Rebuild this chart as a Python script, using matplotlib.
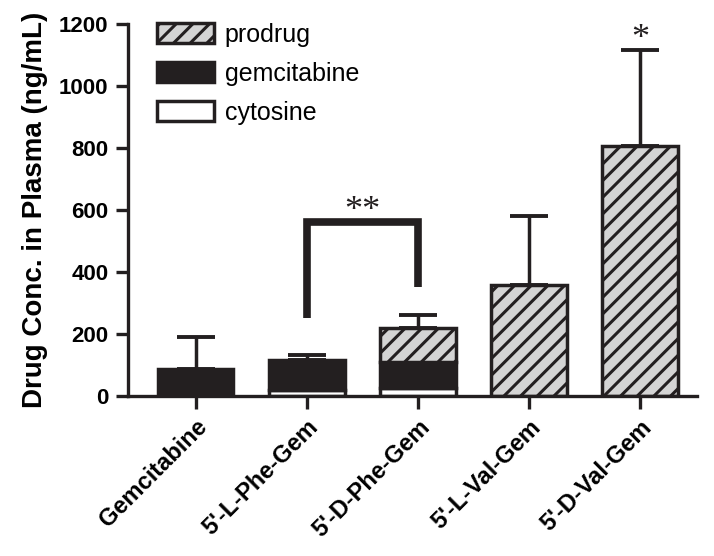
import numpy as np
import matplotlib.pyplot as plt
from matplotlib.patches import Patch

plt.rcParams["font.family"] = ["Liberation Sans", "DejaVu Sans"]
plt.rcParams["hatch.linewidth"] = 2.2

# data (ng/mL)
groups = ["Gemcitabine", "5'-L-Phe-Gem", "5'-D-Phe-Gem", "5'-L-Val-Gem", "5'-D-Val-Gem"]
cytosine = [0, 19, 26, 0, 0]
gemcitabine = [88, 97, 84, 0, 0]
prodrug = [0, 0, 109, 358, 806]
err_up = [102, 16, 42, 222, 310]

# significance marks
bracket_pair = (1, 2)
bracket_top = 560
bracket_feet = (252, 352)
bracket_text = "**"
star_group = 4
star_text = "*"

edge = "#231f20"
styles = {
    "prodrug": dict(facecolor="#d4d4d4", hatch="//"),
    "gemcitabine": dict(facecolor=edge),
    "cytosine": dict(facecolor="white"),
}
x = np.arange(len(groups))
width = 0.68

fig = plt.figure(figsize=(7.14, 5.56), dpi=100)
ax = fig.add_axes([0.179, 0.288, 0.797, 0.669])

cyt = np.array(cytosine)
gem = np.array(gemcitabine)
pro = np.array(prodrug)

# draw only the non-empty segments of each stack
for name, vals, bottom in (("cytosine", cyt, 0 * cyt), ("gemcitabine", gem, cyt),
                           ("prodrug", pro, cyt + gem)):
    keep = vals > 0
    ax.bar(x[keep], vals[keep], width, bottom=bottom[keep], edgecolor=edge,
           linewidth=2.5, zorder=2, **styles[name])

totals = cyt + gem + pro
ax.errorbar(x, totals, yerr=[np.zeros(len(x)), err_up], fmt="none",
            ecolor=edge, elinewidth=2.5, capsize=14, capthick=2.8, zorder=1)

# bracket between the two Phe prodrugs
i, j = bracket_pair
ax.plot([i, i, j, j], [bracket_feet[0], bracket_top, bracket_top, bracket_feet[1]],
        color=edge, lw=5.5, solid_joinstyle="miter", solid_capstyle="butt")
ax.text((i + j) / 2, bracket_top - 18, bracket_text, ha="center", va="bottom",
        fontsize=26, family="Liberation Serif", color=edge)
ax.text(star_group, totals[star_group] + err_up[star_group] - 18, star_text,
        ha="center", va="bottom", fontsize=26, family="Liberation Serif", color=edge)

ax.set_xlim(-0.61, 4.51)
ax.set_ylim(0, 1200)
ax.set_yticks(range(0, 1201, 200))
ax.set_xticks(x)
ax.set_xticklabels(groups, rotation=45, ha="right", rotation_mode="anchor",
                   fontsize=17, fontweight="bold")
for lab in ax.get_yticklabels():
    lab.set_fontsize(16)
    lab.set_fontweight("bold")
ax.set_ylabel("Drug Conc. in Plasma (ng/mL)", fontsize=20, fontweight="bold", labelpad=8)

for side in ("top", "right"):
    ax.spines[side].set_visible(False)
for side in ("left", "bottom"):
    ax.spines[side].set_linewidth(2.4)
    ax.spines[side].set_color(edge)
ax.tick_params(axis="both", width=2.4, length=9, color=edge, pad=5)

handles = [Patch(edgecolor=edge, linewidth=2.5, label=name, **styles[name])
           for name in ("prodrug", "gemcitabine", "cytosine")]
ax.legend(handles=handles, loc="upper left", bbox_to_anchor=(0.033, 1.03),
          frameon=False, fontsize=18, handlelength=2.28, handleheight=0.88,
          labelspacing=0.6, handletextpad=0.44, borderaxespad=0)

fig.savefig("out.png", dpi=100)
